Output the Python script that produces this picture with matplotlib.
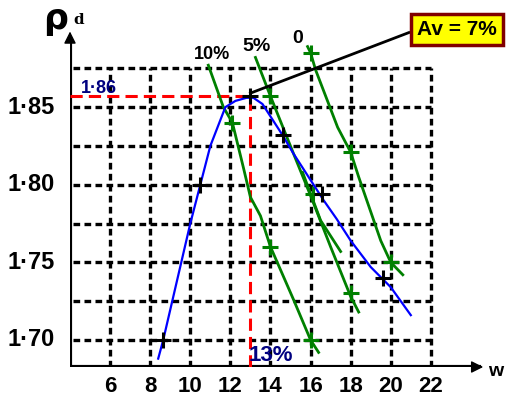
import numpy as np
import matplotlib
matplotlib.use('Agg')
import matplotlib.pyplot as plt

# water content w (%) and dry density (Mg/m3)
w_curve = [8.4, 8.65, 9.1, 9.55, 10.0, 10.5, 11.0, 11.75, 12.25, 12.8, 13.15, 13.6, 14.0, 14.6, 15.15, 16.0, 16.65, 17.3, 18.0, 19.0, 20.0, 21.0]
rho_curve = [1.688, 1.700, 1.725, 1.750, 1.775, 1.800, 1.825, 1.850, 1.854, 1.856, 1.856, 1.852, 1.844, 1.832, 1.820, 1.803, 1.790, 1.778, 1.764, 1.747, 1.734, 1.716]
w_pts = [8.65, 10.5, 13.0, 14.6, 16.55, 19.6]
rho_pts = [1.700, 1.800, 1.857, 1.832, 1.794, 1.740]

# air-voids lines (0 %, 5 %, 10 %)
w_av0 = [15.85, 16.0, 16.25, 17.35, 18.0, 18.4, 19.5, 20.0, 20.6]
rho_av0 = [1.889, 1.885, 1.874, 1.837, 1.821, 1.805, 1.764, 1.750, 1.742]
w_av5 = [13.25, 14.0, 15.15, 16.0, 17.0, 18.0, 18.4]
rho_av5 = [1.882, 1.857, 1.820, 1.793, 1.760, 1.728, 1.718]
w_av5b = [15.6, 16.5, 17.5]
rho_av5b = [1.808, 1.777, 1.757]
w_av10 = [10.9, 11.65, 12.1, 12.65, 13.0, 13.5, 14.0, 15.15, 16.0, 16.4]
rho_av10 = [1.877, 1.850, 1.840, 1.811, 1.792, 1.780, 1.760, 1.726, 1.700, 1.692]
w_av_pts = [16.0, 18.0, 20.0, 14.0, 16.1, 18.0, 12.1, 14.0, 16.0]
rho_av_pts = [1.885, 1.821, 1.750, 1.857, 1.794, 1.730, 1.840, 1.760, 1.700]

x_ticks = [6, 8, 10, 12, 14, 16, 18, 20, 22]
y_ticks = [1.70, 1.75, 1.80, 1.85]
y_grid = [1.70, 1.725, 1.75, 1.775, 1.80, 1.825, 1.85, 1.875]
w_opt = 13.0
rho_max = 1.857

fig = plt.figure(figsize=(5.07, 4.01), dpi=100)
ax = fig.add_axes([70/507, 34/401, 421/507, 367/401])
ax.set_xlim(4, 25)
ax.set_ylim(1.6826, 1.919)
ax.axis('off')

fnt = 'Liberation Sans'
dash = (0, (2.0, 1.3))

# grid
for x in x_ticks:
    ax.plot([x, x], [1.6826, 1.875], color='k', lw=2.4, linestyle=dash)
for y in y_grid:
    ax.plot([3.6, 22], [y, y], color='k', lw=2.4, linestyle=dash)

# axes with arrows
ax.plot([4, 4], [1.6826, 1.893], color='k', lw=3)
ax.plot([4, 24.4], [1.6826, 1.6826], color='k', lw=3)
ax.annotate('', xy=(4, 1.9005), xytext=(4, 1.890),
            arrowprops=dict(arrowstyle='-|>', color='k', lw=1, mutation_scale=18))
ax.annotate('', xy=(24.75, 1.6826), xytext=(24.0, 1.6826),
            arrowprops=dict(arrowstyle='-|>', color='k', lw=1, mutation_scale=18))

for x in x_ticks:
    ax.text(x, 1.670, str(x), ha='center', va='center', fontsize=16,
            fontweight='bold', family=fnt)
for y in y_ticks:
    ax.text(3.25, y, ('%.2f' % y).replace('.', '\u00b7'), ha='right', va='center',
            fontsize=17, fontweight='bold', family=fnt)

ax.text(3.3, 1.907, '\u03c1', ha='center', va='center', fontsize=25,
        fontweight='bold', family='DejaVu Sans')
ax.text(4.45, 1.906, 'd', ha='center', va='center', fontsize=11,
        fontweight='bold', family='DejaVu Serif')
ax.text(25.25, 1.680, 'w', ha='center', va='center', fontsize=14,
        fontweight='bold', family=fnt)

# optimum lines
ax.plot([4, w_opt], [rho_max, rho_max], color='#ff0000', lw=2.2,
        linestyle=(0, (4, 2)))
ax.plot([w_opt, w_opt], [1.6826, rho_max], color='#ff0000', lw=2.2,
        linestyle=(0, (4, 2)))
ax.text(5.45, 1.862, '1\u00b786', ha='center', va='center', fontsize=13,
        fontweight='bold', color='#000080', family=fnt)
ax.text(14.0, 1.690, '13%', ha='center', va='center', fontsize=16,
        fontweight='bold', color='#000080', family=fnt)

# air voids lines
for xs, ys in [(w_av0, rho_av0), (w_av5, rho_av5), (w_av5b, rho_av5b), (w_av10, rho_av10)]:
    ax.plot(xs, ys, color='#008000', lw=2)
ax.plot(w_av_pts, rho_av_pts, '+', color='#008000', ms=11, mew=2.2)
ax.text(11.1, 1.884, '10%', ha='center', va='center', fontsize=13,
        fontweight='bold', family=fnt)
ax.text(13.3, 1.889, '5%', ha='center', va='center', fontsize=14,
        fontweight='bold', family=fnt)
ax.text(15.35, 1.894, '0', ha='center', va='center', fontsize=14,
        fontweight='bold', family=fnt)

# compaction curve
ax.plot(w_curve, rho_curve, color='#0000ff', lw=1.6)
ax.plot(w_pts, rho_pts, '+', color='k', ms=11, mew=2.2)

# label line and box
ax.plot([13.0, 20.9], [1.859, 1.898], color='k', lw=2)
ax.text(23.3, 1.900, 'Av = 7%', ha='center', va='center', fontsize=15,
        fontweight='bold', family=fnt, clip_on=False,
        bbox=dict(boxstyle='square,pad=0.28', fc='#ffff00', ec='#800000', lw=2.5))

fig.savefig('out.png', dpi=100)
